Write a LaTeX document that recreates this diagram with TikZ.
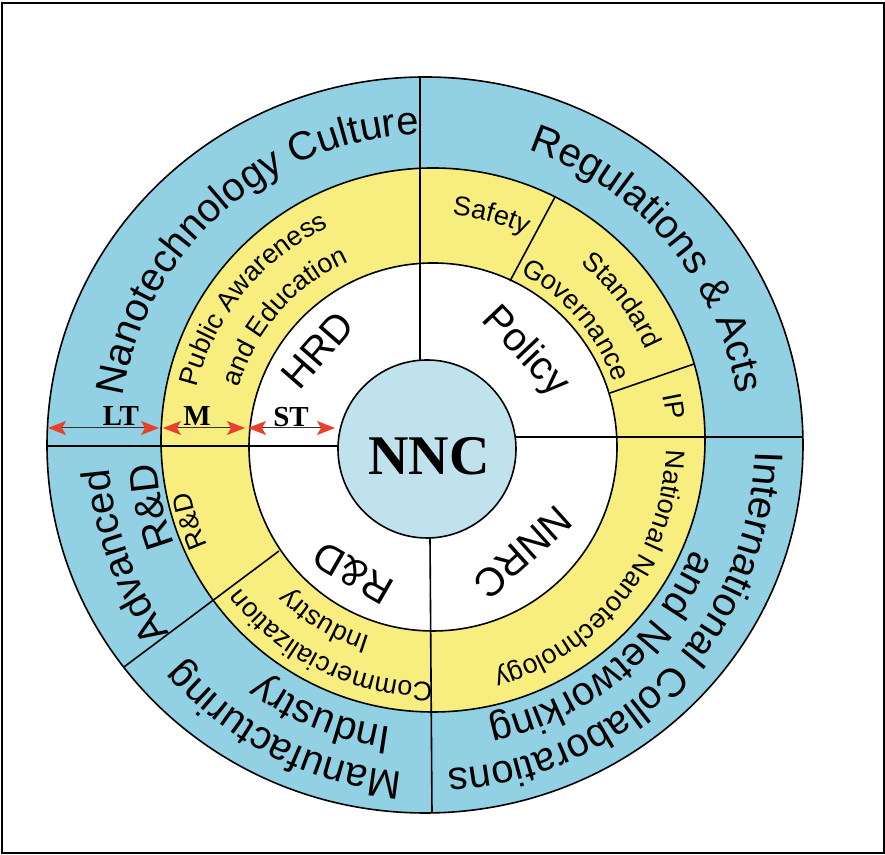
\documentclass[tikz,border=0pt]{standalone}
\usepackage{fontspec}
\newfontfamily\arialf{Liberation Sans}
\newfontfamily\timesf{Liberation Serif}
\usetikzlibrary{decorations.text,calc,arrows.meta}
\definecolor{ringblue}{HTML}{92D0E3}
\definecolor{ringyellow}{HTML}{F7EE7F}
\definecolor{corebl}{HTML}{BFE2EC}
\definecolor{tipred}{HTML}{E8402A}
\newcommand\bigsans{\arialf\fontsize{20}{24}\selectfont}
\newcommand\smallsans{\arialf\fontsize{13.5}{16}\selectfont}
% clockwise arc text (tops outward): #1 font, #2 centre angle, #3 baseline radius, #4 text
\newcommand\cwtext[4]{\path[decorate,decoration={text along path,text align=center,text={|#1|#4}}] ($(C)+({#2+75}:#3)$) arc[start angle={#2+75}, end angle={#2-75}, radius=#3];}
\begin{document}
\begin{tikzpicture}[x=0.5pt,y=0.5pt,line width=0.8pt,
  divider/.style={draw=black,line width=0.8pt},
  span/.style={draw=black!80,line width=0.5pt,{Stealth[length=9pt,width=7pt,inset=2pt,color=tipred]}-{Stealth[length=9pt,width=7pt,inset=2pt,color=tipred]}},
  spanlabel/.style={font=\timesf\bfseries\fontsize{14.5}{17}\selectfont,inner sep=0pt},
  whitelabel/.style={font=\bigsans,inner sep=0pt}]
\useasboundingbox (0,0) rectangle (885,855);
\coordinate (C) at (430,410);
\draw[line width=0.6pt] (2,2) rectangle (884,852);
% rings
\filldraw[fill=ringblue] (425,410) ellipse[x radius=378, y radius=368];
\filldraw[fill=ringyellow] (433,415) circle[radius=272];
\filldraw[fill=white] (433,408) circle[radius=184];
\filldraw[fill=corebl] (427,406) circle[radius=89];
% dividers
\coordinate (vt1) at (420,778); \coordinate (vt2) at (420,494.7);
\coordinate (vb1) at (430,317.1); \coordinate (vb2) at (432,42.1);
\coordinate (hl1) at (47,409); \coordinate (hl2) at (338,409);
\coordinate (hr1) at (515.2,418); \coordinate (hr2) at (802.9,418);
\coordinate (ss1) at (510,574); \coordinate (ss2) at (555,658);
\coordinate (ip1) at (610,462); \coordinate (ip2) at (694,491);
\coordinate (rc1) at (279,304); \coordinate (rc2) at (123.3,187.5);
\draw[divider] (vt1) -- (vt2);
\draw[divider] (vb1) -- (vb2);
\draw[divider] (hl1) -- (hl2);
\draw[divider] (hr1) -- (hr2);
\draw[divider] (ss1) -- (ss2);
\draw[divider] (ip1) -- (ip2);
\draw[divider] (rc1) -- (rc2);
% outer ring texts
\cwtext{\bigsans}{131.5}{311}{Nanotechnology Culture}
\cwtext{\bigsans}{40.5}{311}{Regulations {\&} Acts}
\cwtext{\bigsans}{200}{321}{Advanced}
\cwtext{\bigsans}{192.5}{274}{R{\&}D}
\cwtext{\bigsans}{243}{328}{Manufacturing}
\cwtext{\bigsans}{248}{285}{Industry}
\cwtext{\bigsans}{-44}{325}{International Collaborations}
\cwtext{\bigsans}{-50}{282}{and Networking}
% middle ring texts
\cwtext{\smallsans}{140.5}{240}{Public Awareness}
\cwtext{\smallsans}{138.5}{200}{and Education}
\cwtext{\smallsans}{75}{231}{Safety}
\cwtext{\smallsans}{37}{236}{Standard}
\cwtext{\smallsans}{40.5}{194}{Governance}
\cwtext{\smallsans}{9}{238}{IP}
\cwtext{\smallsans}{-37.8}{236}{National Nanotechnology}
\cwtext{\smallsans}{197.6}{244}{R{\&}D}
\cwtext{\smallsans}{243.8}{237}{Commercialization}
\cwtext{\smallsans}{239}{201}{Industry}
% inner ring texts
\node[whitelabel,rotate=48.9] (hrd) at (318,505) {HRD};
\node[whitelabel,rotate=-46.5] (policy) at (525,503) {Policy};
\node[whitelabel,rotate=-138] (nnrc) at (523,303) {NNRC};
\node[whitelabel,rotate=150] (rd) at (353,282) {R\&D};
% core
\node[font=\timesf\bfseries\fontsize{28}{32}\selectfont,inner sep=0pt] (nnc) at (429,399) {NNC};
% time spans
\coordinate (lt1) at (48,427); \coordinate (lt2) at (159,427);
\coordinate (m1) at (163,427); \coordinate (m2) at (245,427);
\coordinate (st1) at (248,427); \coordinate (st2) at (335,427);
\draw[span] (lt1) -- (lt2);
\draw[span] (m1) -- (m2);
\draw[span] (st1) -- (st2);
\node[spanlabel] (ltl) at (121,439) {LT};
\node[spanlabel] (ml) at (197,439) {M};
\node[spanlabel] (stl) at (291,438) {ST};
\end{tikzpicture}
\end{document}
